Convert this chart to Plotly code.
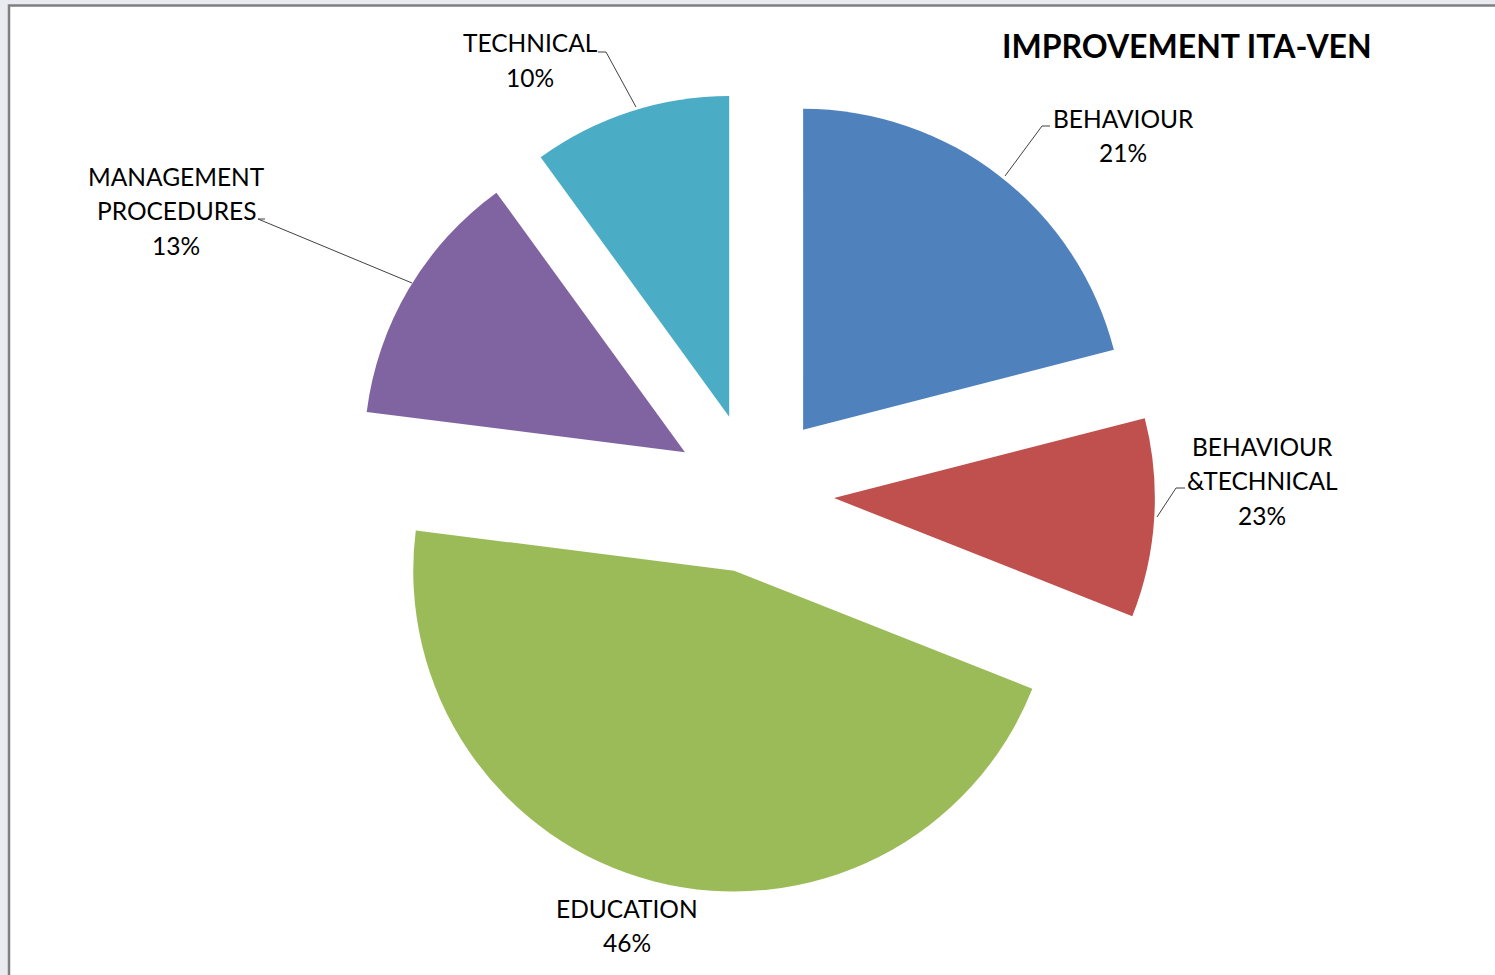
import plotly.graph_objects as go

W, H = 1495, 975

# ---- data ----
categories = ["BEHAVIOUR", "BEHAVIOUR &TECHNICAL", "EDUCATION", "MANAGEMENT PROCEDURES", "TECHNICAL"]
values = [21, 10, 46, 13, 10]
label_lines = [["BEHAVIOUR"], ["BEHAVIOUR", "&TECHNICAL"], ["EDUCATION"], ["MANAGEMENT", "PROCEDURES"], ["TECHNICAL"]]
label_pct = ["21%", "23%", "46%", "13%", "10%"]
colors = ["#4F81BD", "#C0504D", "#9BBB59", "#8064A2", "#4BACC6"]
title_text = "IMPROVEMENT ITA-VEN"

# ---- layout helpers (pixel -> paper) ----
def px(x):
    return x / W

def py(y):
    return 1 - y / H

FONT = "Lato"

fig = go.Figure(go.Pie(
    labels=categories,
    values=values,
    sort=False,
    direction="clockwise",
    rotation=0,
    pull=[0.25] * len(values),
    marker=dict(colors=colors, line=dict(width=0)),
    textinfo="none",
    hoverinfo="label+percent",
    showlegend=False,
    domain=dict(x=[px(353), px(1155)], y=[py(894), py(92)]),
))

# label placement (pixel centers of first line) and line spacing
label_pos = [(1123, 118), (1262, 446), (627, 908), (176, 176), (530, 43)]
LINE_GAP = 34.5
annotations = []
for (cx, cy), lines, pct in zip(label_pos, label_lines, label_pct):
    for i, t in enumerate(lines + [pct]):
        annotations.append(dict(
            x=px(cx), y=py(cy + i * LINE_GAP), xref="paper", yref="paper",
            text=t, showarrow=False, xanchor="center", yanchor="middle",
            font=dict(family=FONT, size=24.5, color="#000000"),
        ))

annotations.append(dict(
    x=px(1187), y=py(46), xref="paper", yref="paper",
    text="<b>" + title_text + "</b>", showarrow=False,
    xanchor="center", yanchor="middle",
    font=dict(family=FONT, size=32, color="#000000"),
))

# leader lines (pixel paths)
leaders = [
    [(1050, 126), (1042, 126), (1005, 176)],
    [(1185, 488), (1176, 488), (1157, 517)],
    [(265, 219), (258, 219), (412, 283)],
    [(598, 52), (606, 52), (636, 107)],
]
shapes = [
    dict(type="rect", xref="paper", yref="paper",
         x0=px(9), x1=1.02, y0=-0.02, y1=py(5.5),
         fillcolor="#FFFFFF", line=dict(color="#808080", width=2.5), layer="below"),
]
for pts in leaders:
    path = "M " + " L ".join(f"{px(x)},{py(y)}" for x, y in pts)
    shapes.append(dict(type="path", xref="paper", yref="paper", path=path,
                       line=dict(color="#404040", width=1)))

fig.update_layout(
    width=W, height=H,
    margin=dict(l=0, r=0, t=0, b=0),
    paper_bgcolor="#E9EBF1",
    plot_bgcolor="#FFFFFF",
    annotations=annotations,
    shapes=shapes,
)

fig.write_html("out.html", config={"displayModeBar": False},
               post_script="document.body.style.margin='0px';document.body.style.overflow='hidden';")
